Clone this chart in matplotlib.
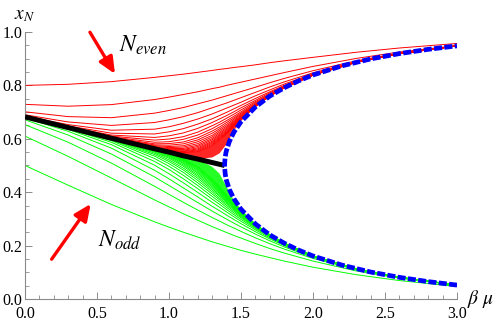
import numpy as np
import matplotlib
matplotlib.use("Agg")
import matplotlib.pyplot as plt

plt.rcParams['font.family'] = ['Liberation Serif', 'DejaVu Serif']
plt.rcParams['mathtext.fontset'] = 'stix'

# beta*mu positions at which the curves were read
beta = [0, 0.3, 0.6, 0.9, 1.0, 1.1, 1.2, 1.3, 1.35, 1.4, 1.45, 1.5, 1.6, 1.7, 1.8, 2.0, 2.3, 2.6, 3.0]

# x_N for even N (red), N = 2, 4, ..., 40
even_curves = [
    [0.800, 0.804, 0.814, 0.830, 0.836, 0.842, 0.849, 0.856, 0.860, 0.863, 0.867, 0.870, 0.877, 0.885, 0.892, 0.905, 0.924, 0.940, 0.957],
    [0.729, 0.722, 0.728, 0.747, 0.756, 0.766, 0.776, 0.788, 0.793, 0.800, 0.806, 0.812, 0.824, 0.836, 0.848, 0.871, 0.901, 0.925, 0.949],
    [0.701, 0.683, 0.679, 0.696, 0.706, 0.717, 0.731, 0.745, 0.753, 0.761, 0.769, 0.777, 0.793, 0.810, 0.826, 0.855, 0.892, 0.921, 0.948],
    [0.690, 0.663, 0.650, 0.661, 0.671, 0.683, 0.698, 0.716, 0.725, 0.734, 0.744, 0.754, 0.774, 0.794, 0.813, 0.847, 0.889, 0.920, 0.948],
    [0.685, 0.653, 0.632, 0.636, 0.645, 0.658, 0.674, 0.693, 0.704, 0.715, 0.726, 0.737, 0.761, 0.783, 0.805, 0.843, 0.888, 0.919, 0.948],
    [0.684, 0.648, 0.621, 0.618, 0.626, 0.638, 0.655, 0.675, 0.687, 0.699, 0.712, 0.725, 0.751, 0.776, 0.800, 0.841, 0.887, 0.919, 0.948],
    [0.683, 0.645, 0.614, 0.605, 0.611, 0.622, 0.639, 0.661, 0.674, 0.687, 0.701, 0.716, 0.744, 0.772, 0.797, 0.840, 0.887, 0.919, 0.948],
    [0.683, 0.644, 0.610, 0.595, 0.599, 0.608, 0.625, 0.649, 0.662, 0.677, 0.692, 0.708, 0.739, 0.768, 0.795, 0.839, 0.887, 0.919, 0.948],
    [0.682, 0.643, 0.607, 0.587, 0.589, 0.598, 0.614, 0.638, 0.653, 0.668, 0.684, 0.701, 0.735, 0.766, 0.794, 0.839, 0.887, 0.919, 0.948],
    [0.682, 0.643, 0.605, 0.581, 0.582, 0.588, 0.604, 0.629, 0.644, 0.661, 0.678, 0.696, 0.731, 0.764, 0.793, 0.839, 0.887, 0.919, 0.948],
    [0.682, 0.642, 0.604, 0.577, 0.576, 0.581, 0.596, 0.621, 0.637, 0.654, 0.673, 0.692, 0.729, 0.763, 0.792, 0.839, 0.887, 0.919, 0.948],
    [0.682, 0.642, 0.603, 0.574, 0.571, 0.574, 0.589, 0.613, 0.631, 0.648, 0.668, 0.688, 0.727, 0.762, 0.792, 0.839, 0.887, 0.919, 0.948],
    [0.682, 0.642, 0.603, 0.571, 0.567, 0.569, 0.582, 0.607, 0.625, 0.643, 0.664, 0.685, 0.726, 0.761, 0.792, 0.839, 0.887, 0.919, 0.948],
    [0.682, 0.642, 0.603, 0.569, 0.563, 0.564, 0.576, 0.601, 0.620, 0.638, 0.661, 0.682, 0.724, 0.761, 0.791, 0.839, 0.887, 0.919, 0.948],
    [0.682, 0.642, 0.602, 0.567, 0.561, 0.560, 0.571, 0.596, 0.615, 0.634, 0.657, 0.680, 0.723, 0.761, 0.791, 0.839, 0.887, 0.919, 0.948],
    [0.682, 0.642, 0.602, 0.566, 0.559, 0.557, 0.566, 0.591, 0.611, 0.630, 0.655, 0.678, 0.723, 0.760, 0.791, 0.839, 0.887, 0.919, 0.948],
    [0.682, 0.642, 0.602, 0.565, 0.557, 0.554, 0.562, 0.587, 0.607, 0.626, 0.652, 0.677, 0.722, 0.760, 0.791, 0.839, 0.887, 0.919, 0.948],
    [0.682, 0.642, 0.602, 0.565, 0.556, 0.552, 0.558, 0.583, 0.603, 0.623, 0.650, 0.675, 0.722, 0.760, 0.791, 0.839, 0.887, 0.919, 0.948],
    [0.682, 0.642, 0.602, 0.564, 0.555, 0.549, 0.555, 0.579, 0.600, 0.621, 0.648, 0.674, 0.721, 0.760, 0.791, 0.839, 0.887, 0.919, 0.948],
    [0.682, 0.642, 0.602, 0.564, 0.554, 0.548, 0.552, 0.575, 0.596, 0.618, 0.646, 0.673, 0.721, 0.760, 0.791, 0.839, 0.887, 0.919, 0.948],
]

# x_N for odd N (green), N = 1, 3, ..., 39
odd_curves = [
    [0.500, 0.426, 0.354, 0.289, 0.269, 0.250, 0.232, 0.214, 0.206, 0.198, 0.190, 0.182, 0.168, 0.155, 0.142, 0.119, 0.091, 0.069, 0.047],
    [0.610, 0.534, 0.453, 0.371, 0.345, 0.319, 0.295, 0.271, 0.260, 0.249, 0.238, 0.228, 0.208, 0.189, 0.172, 0.142, 0.105, 0.078, 0.052],
    [0.653, 0.587, 0.509, 0.422, 0.392, 0.362, 0.333, 0.305, 0.292, 0.278, 0.266, 0.253, 0.229, 0.207, 0.187, 0.152, 0.110, 0.080, 0.052],
    [0.671, 0.614, 0.543, 0.457, 0.425, 0.393, 0.361, 0.329, 0.314, 0.299, 0.284, 0.270, 0.243, 0.218, 0.195, 0.156, 0.112, 0.081, 0.052],
    [0.678, 0.628, 0.565, 0.482, 0.450, 0.416, 0.382, 0.347, 0.331, 0.314, 0.298, 0.282, 0.252, 0.225, 0.200, 0.159, 0.113, 0.081, 0.052],
    [0.680, 0.635, 0.578, 0.501, 0.469, 0.435, 0.399, 0.362, 0.344, 0.326, 0.308, 0.291, 0.259, 0.229, 0.203, 0.160, 0.113, 0.081, 0.052],
    [0.682, 0.638, 0.587, 0.515, 0.485, 0.450, 0.413, 0.374, 0.355, 0.335, 0.316, 0.298, 0.264, 0.233, 0.205, 0.161, 0.113, 0.081, 0.052],
    [0.682, 0.640, 0.593, 0.526, 0.497, 0.463, 0.425, 0.384, 0.364, 0.343, 0.323, 0.304, 0.267, 0.235, 0.207, 0.161, 0.113, 0.081, 0.052],
    [0.682, 0.641, 0.596, 0.535, 0.507, 0.474, 0.435, 0.393, 0.372, 0.350, 0.329, 0.308, 0.270, 0.236, 0.207, 0.161, 0.113, 0.081, 0.052],
    [0.682, 0.642, 0.598, 0.541, 0.515, 0.483, 0.444, 0.401, 0.378, 0.356, 0.334, 0.312, 0.272, 0.238, 0.208, 0.161, 0.113, 0.081, 0.052],
    [0.682, 0.642, 0.600, 0.546, 0.521, 0.490, 0.452, 0.408, 0.385, 0.361, 0.338, 0.315, 0.274, 0.238, 0.208, 0.161, 0.113, 0.081, 0.052],
    [0.682, 0.642, 0.601, 0.550, 0.527, 0.497, 0.459, 0.414, 0.390, 0.365, 0.341, 0.318, 0.275, 0.239, 0.208, 0.161, 0.113, 0.081, 0.052],
    [0.682, 0.642, 0.601, 0.553, 0.531, 0.502, 0.465, 0.420, 0.395, 0.369, 0.345, 0.320, 0.276, 0.239, 0.209, 0.161, 0.113, 0.081, 0.052],
    [0.682, 0.642, 0.602, 0.555, 0.535, 0.507, 0.471, 0.425, 0.400, 0.373, 0.347, 0.322, 0.277, 0.240, 0.209, 0.161, 0.113, 0.081, 0.052],
    [0.682, 0.642, 0.602, 0.557, 0.537, 0.511, 0.476, 0.430, 0.404, 0.376, 0.350, 0.324, 0.278, 0.240, 0.209, 0.161, 0.113, 0.081, 0.052],
    [0.682, 0.642, 0.602, 0.558, 0.540, 0.515, 0.481, 0.435, 0.408, 0.379, 0.352, 0.325, 0.278, 0.240, 0.209, 0.161, 0.113, 0.081, 0.052],
    [0.682, 0.642, 0.602, 0.559, 0.542, 0.518, 0.485, 0.439, 0.411, 0.382, 0.354, 0.327, 0.279, 0.240, 0.209, 0.161, 0.113, 0.081, 0.052],
    [0.682, 0.642, 0.602, 0.560, 0.543, 0.520, 0.489, 0.442, 0.415, 0.384, 0.355, 0.328, 0.279, 0.240, 0.209, 0.161, 0.113, 0.081, 0.052],
    [0.682, 0.642, 0.602, 0.561, 0.544, 0.523, 0.492, 0.446, 0.418, 0.387, 0.357, 0.329, 0.280, 0.240, 0.209, 0.161, 0.113, 0.081, 0.052],
    [0.682, 0.642, 0.602, 0.561, 0.545, 0.524, 0.495, 0.449, 0.421, 0.389, 0.358, 0.330, 0.280, 0.240, 0.209, 0.161, 0.113, 0.081, 0.052],
]

# dense part near the bifurcation (many large-N curves merge into a solid band)
blob_beta = [0.9, 1.0, 1.1, 1.2, 1.3, 1.35, 1.4, 1.45, 1.5, 1.6]
red_blob_edge = [0.563, 0.550, 0.536, 0.524, 0.530, 0.545, 0.580, 0.630, 0.666, 0.720]
green_blob_edge = [0.563, 0.550, 0.536, 0.524, 0.495, 0.470, 0.420, 0.370, 0.336, 0.281]

# stable fixed point (black) for beta*mu below the bifurcation
black_beta = [0, 0.3, 0.6, 0.9, 1.0, 1.1, 1.2, 1.3, 1.35, 1.386]
black_x = [0.682, 0.642, 0.602, 0.5625, 0.550, 0.536, 0.524, 0.511, 0.5045, 0.500]

# period-two branches (blue dashed) above the bifurcation
blue_beta = [1.386, 1.3865, 1.387, 1.39, 1.395, 1.40, 1.42, 1.45, 1.5, 1.6, 1.7, 1.8, 1.9, 2.0, 2.2, 2.4, 2.6, 2.8, 3.0]
blue_upper = [0.500, 0.507, 0.513, 0.530, 0.547, 0.558, 0.591, 0.624, 0.664, 0.719, 0.760, 0.791, 0.817, 0.839, 0.873, 0.899, 0.919, 0.935, 0.948]
blue_lower = [0.500, 0.493, 0.487, 0.470, 0.453, 0.442, 0.409, 0.376, 0.336, 0.281, 0.240, 0.209, 0.183, 0.161, 0.127, 0.101, 0.081, 0.065, 0.052]

fig = plt.figure(figsize=(4.98, 3.24), dpi=100)
ax = fig.add_axes([0.0502, 0.0772, 0.8675, 0.8241])

red = (1, 0, 0)
green = (0, 1, 0)

# solid bands first, thin curves over them
i0, i1 = beta.index(0.9), beta.index(1.6) + 1
ax.fill(beta[i0:i1] + blob_beta[::-1], even_curves[-1][i0:i1] + red_blob_edge[::-1],
        color=red, lw=0, alpha=0.85, zorder=1)
ax.fill(beta[i0:i1] + blob_beta[::-1], odd_curves[-1][i0:i1] + green_blob_edge[::-1],
        color=green, lw=0, alpha=0.85, zorder=1)

for row in even_curves:
    ax.plot(beta, row, color=red, lw=0.7, zorder=2)
for row in odd_curves:
    ax.plot(beta, row, color=green, lw=0.7, zorder=2)

ax.plot(black_beta, black_x, color='black', lw=3.6, solid_capstyle='butt', zorder=3)

blue_b = blue_beta[::-1] + blue_beta[1:]
blue_x = blue_lower[::-1] + blue_upper[1:]
ax.plot(blue_b, blue_x, color=(0, 0, 1), lw=3.4, dashes=(1.7, 0.5),
        dash_capstyle='butt', zorder=4)

# arrows and labels
arrow = dict(arrowstyle='-|>,head_length=1.0,head_width=0.45',
             color=red, lw=2.4, shrinkA=0, shrinkB=0)
ax.annotate('', xy=(0.625, 0.843), xytext=(0.451, 0.999), arrowprops=arrow)
ax.annotate('', xy=(0.456, 0.356), xytext=(0.185, 0.149), arrowprops=arrow)
ax.text(0.655, 0.951, r'$N_{even}$', fontsize=17, ha='left', va='center')
ax.text(0.505, 0.221, r'$N_{odd}$', fontsize=17, ha='left', va='center')

ax.text(-0.005, 1.062, r'$x_N$', fontsize=14, ha='center', va='center', clip_on=False)
ax.text(3.07, 0.0, r'$\beta\ \mu$', fontsize=14, ha='left', va='center', clip_on=False)

ax.set_xlim(0, 3)
ax.set_ylim(0, 1)
for s in ['top', 'right']:
    ax.spines[s].set_visible(False)
for s in ['left', 'bottom']:
    ax.spines[s].set_color('#8a8a8a')
    ax.spines[s].set_linewidth(0.8)

ax.set_xticks([0, 0.5, 1.0, 1.5, 2.0, 2.5, 3.0])
ax.set_xticklabels(['0.0', '0.5', '1.0', '1.5', '2.0', '2.5', '3.0'])
ax.set_yticks([0, 0.2, 0.4, 0.6, 0.8, 1.0])
ax.set_yticklabels(['0.0', '0.2', '0.4', '0.6', '0.8', '1.0'])
ax.set_xticks(np.arange(0, 3.01, 0.1), minor=True)
ax.set_yticks(np.arange(0, 1.001, 0.05), minor=True)
ax.tick_params(which='major', direction='in', length=5, width=0.7, color='#8a8a8a',
               labelsize=11.5)
ax.tick_params(axis='x', which='major', pad=5)
ax.tick_params(axis='y', which='major', pad=2)
ax.tick_params(which='minor', direction='in', length=2.8, width=0.6, color='#8a8a8a')

fig.savefig('out.png', dpi=100)
